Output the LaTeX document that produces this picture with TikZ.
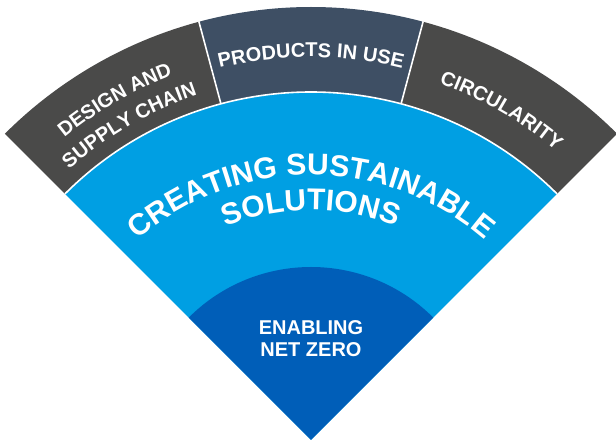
\documentclass[tikz,border=0pt]{standalone}
\usepackage{fontspec}
\setmainfont{Liberation Sans}
\usetikzlibrary{decorations.text}
\definecolor{ringgrey}{HTML}{4A4A49}
\definecolor{ringslate}{HTML}{3E4F64}
\definecolor{midblue}{HTML}{009FE3}
\definecolor{deepblue}{HTML}{005EB8}
\begin{document}
\begin{tikzpicture}[x=1pt,y=1pt,
  sepline/.style={white,line width=1.6pt},
  bigarc/.style={decorate,decoration={text along path,text align=center,text color=white,
     text={|\fontsize{30}{30}\selectfont\bfseries|#1}}},
  smallarc/.style={decorate,decoration={text along path,text align=center,text color=white,
     text={|\fontsize{20}{20}\selectfont\bfseries|#1}}},
  flatlabel/.style={text=white,font=\fontsize{20}{22}\selectfont\bfseries,inner sep=0pt,anchor=base}]
\useasboundingbox (0,0) rectangle (616,441);
\begin{scope}[shift={(311,1)}]
  % outer ring segments
  \fill[ringgrey] (135:348) arc[start angle=135,end angle=105,radius=348] -- (105:433) arc[start angle=105,end angle=135,radius=433] -- cycle;
  \fill[ringslate] (105:348) arc[start angle=105,end angle=75,radius=348] -- (75:433) arc[start angle=75,end angle=105,radius=433] -- cycle;
  \fill[ringgrey] (75:348) arc[start angle=75,end angle=45,radius=348] -- (45:433) arc[start angle=45,end angle=75,radius=433] -- cycle;
  % middle sector
  \fill[midblue] (0,0) -- (135:348) arc[start angle=135,end angle=45,radius=348] -- cycle;
  % inner sector
  \fill[deepblue] (0,0) -- (135:173) arc[start angle=135,end angle=45,radius=173] -- cycle;
  % separators
  \draw[sepline] (135:348) arc[start angle=135,end angle=45,radius=348];
  \draw[sepline] (105:348) -- (105:433.5);
  \draw[sepline] (75:348) -- (75:433.5);
  % ring labels
  \path[smallarc={DESIGN AND}] (160:390) arc[start angle=160,end angle=80,radius=390];
  \path[smallarc={SUPPLY CHAIN}] (160:363) arc[start angle=160,end angle=80,radius=363];
  \path[smallarc={PRODUCTS IN USE}] (130:383) arc[start angle=130,end angle=50,radius=383];
  \path[smallarc={CIRCULARITY}] (100:379) arc[start angle=100,end angle=20,radius=379];
  % middle labels
  \path[bigarc={CREATING SUSTAINABLE}] (138:265) arc[start angle=138,end angle=42,radius=265];
  \path[bigarc={SOLUTIONS}] (138:230) arc[start angle=138,end angle=42,radius=230];
  % inner labels
  \node[flatlabel] (enabling) at (0,105) {ENABLING};
  \node[flatlabel] (netzero) at (0,83) {NET ZERO};
\end{scope}
\end{tikzpicture}
\end{document}
